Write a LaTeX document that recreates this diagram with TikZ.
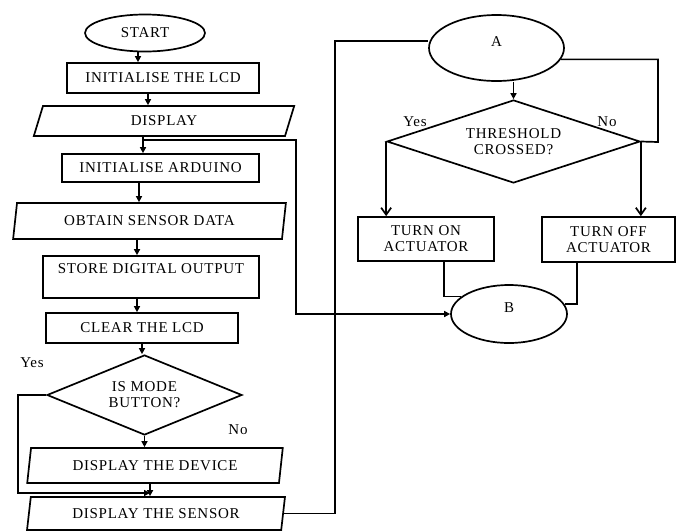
\documentclass[tikz,border=0pt]{standalone}
\usepackage{fontspec}
\setmainfont{Liberation Serif}[LetterSpace=5]
\usetikzlibrary{arrows.meta,shapes.geometric}

\tikzset{
  every node/.style={font=\fontsize{15}{16}\selectfont, align=center, inner sep=0pt},
  box/.style={draw, line width=1.7pt, rectangle},
  io/.style={draw, line width=1.7pt, trapezium, trapezium left angle=76, trapezium right angle=104, trapezium stretches=true},
  term/.style={draw, line width=1.7pt, ellipse},
  test/.style={draw, line width=1.7pt, diamond, shape aspect=2.5},
  arr/.style={line width=1.5pt, -{Triangle[length=6pt,width=6pt]}},
  arrb/.style={line width=1.7pt, -{Straight Barb[length=7pt,width=10pt]}},
  wire/.style={line width=1.7pt},
}

\begin{document}
\begin{tikzpicture}[x=1pt, y=-1pt]
\useasboundingbox (0,0) rectangle (683,531);

% main loop
\node[term, minimum width=120pt, minimum height=37pt] (start) at (145,33) {START};
\node[box, minimum width=192pt, minimum height=30pt] (lcd) at (163,78) {INITIALISE THE LCD};
\node[io, minimum width=262pt, minimum height=30pt] (disp) at (164,121) {DISPLAY};
\node[box, minimum width=197pt, minimum height=28pt] (ard) at (160.5,168) {INITIALISE ARDUINO};
\node[io, minimum width=273pt, minimum height=36pt] (obt) at (149.5,221) {OBTAIN SENSOR DATA};
\node[box, minimum width=216pt, minimum height=42pt] (store) at (151,277) {STORE DIGITAL OUTPUT\\ \mbox{}};
\node[box, minimum width=192pt, minimum height=30pt] (clear) at (142,328) {CLEAR THE LCD};
\node[test, minimum width=195pt, minimum height=80pt] (mode) at (144.5,395) {IS MODE\\BUTTON?};
\node[io, minimum width=256pt, minimum height=35pt] (dev) at (155,465.5) {DISPLAY THE DEVICE};
\node[io, minimum width=258pt, minimum height=33pt] (sens) at (156,513.5) {DISPLAY THE SENSOR};
\node (yesmode) at (32,363) {Yes};
\node (nomode) at (238,430) {No};

% actuator part
\node[term, minimum width=135pt, minimum height=66pt] (A) at (496.5,48) {A\\[-4pt]};
\node[test, minimum width=253pt, minimum height=83pt] (thr) at (513.5,141.5) {THRESHOLD\\CROSSED?};
\node[box, minimum width=136pt, minimum height=44pt] (on) at (426,239) {TURN ON\\ACTUATOR};
\node[box, minimum width=133pt, minimum height=45pt] (off) at (608.5,239.5) {TURN OFF\\ACTUATOR};
\node[term, minimum width=116pt, minimum height=58pt] (B) at (509,314) {B\\[-4pt]};
\node (yesthr) at (415,122) {Yes};
\node (nothr) at (607,122) {No};

% bends
\coordinate (jn) at (143,140);
\coordinate (loopr) at (296,140);
\coordinate (yesl) at (18,493);
\coordinate (backl) at (335,41);
\coordinate (nor) at (658,142);

\foreach \i/\j/\s in {start/lcd/-7,lcd/disp/-15,disp/ard/-21,ard/obt/-21.5,obt/store/-12.5,store/clear/-14,clear/mode/0,mode/dev/0,dev/sens/-5}
  {\draw[arr] ([xshift=\s pt]\i.south) -- ([xshift=\s pt]\i.south |- \j.north);}

\draw[arr] (jn) -- (loopr) |- (B.west);
\draw[arr] (mode.west) -| (yesl) -- ([xshift=-6pt]yesl -| sens.north);
\draw[wire] (sens.east) -| (backl) -- (backl -| A.west);

\draw[arr] (thr.north |- A.south) -- (thr.north);
\draw[wire] (A.-10) -| (nor) -- (thr.east);
\draw[arrb] (thr.west) -- (thr.west |- on.north);
\draw[arrb] (thr.east) -- (thr.east |- off.north);
\draw[wire] ([xshift=18pt]on.south) |- (B.160);
\draw[wire] ([xshift=-31.5pt]off.south) |- (B.10);
\end{tikzpicture}
\end{document}
